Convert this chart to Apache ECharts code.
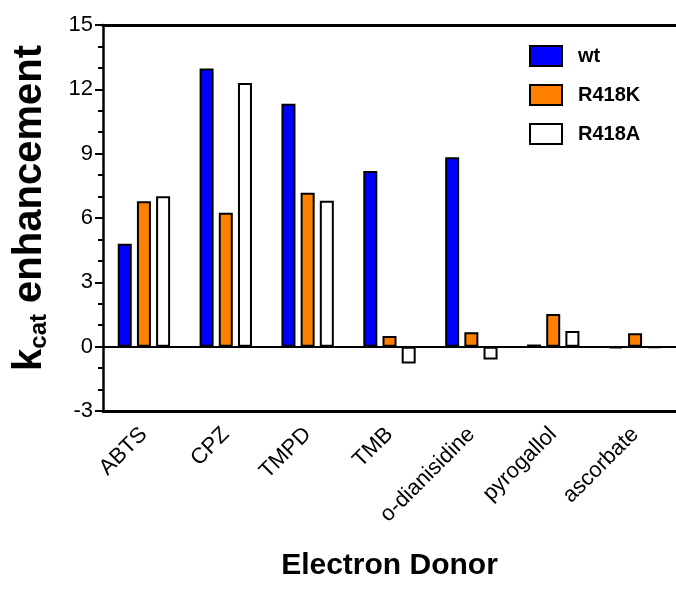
<!DOCTYPE html>
<html>
<head>
<meta charset="utf-8">
<script src="https://cdn.jsdelivr.net/npm/echarts@6/dist/echarts.min.js"></script>
<style>
  html, body { margin: 0; padding: 0; background: #fff; }
  #chart { width: 676px; height: 592px; }
</style>
</head>
<body>
<div id="chart"></div>
<script>
// Electron donors tested
const donors = ['ABTS', 'CPZ', 'TMPD', 'TMB', 'o-dianisidine', 'pyrogallol', 'ascorbate'];

// kcat enhancement per enzyme variant
const wt    = [4.80, 12.97, 11.33, 8.19, 8.83, 0.10, -0.08];
const r418k = [6.78, 6.25, 7.18, 0.50, 0.67, 1.52, 0.63];
const r418a = [7.02, 12.30, 6.80, -0.78, -0.60, 0.73, -0.06];

// Y axis ticks
const yTicks = { min: -3, max: 15, step: 3 };

const FONT = '"Liberation Sans", Arial, Helvetica, sans-serif';

const chart = echarts.init(document.getElementById('chart'), null, { renderer: 'canvas' });

function barSeries(name, values, color) {
  return {
    name: name,
    type: 'bar',
    data: values,
    barWidth: 14,
    barGap: '37%',
    itemStyle: { color: color, borderColor: '#000', borderWidth: 2 },
    emphasis: { disabled: true }
  };
}

const series = [
  barSeries('wt', wt, '#0000ff'),
  barSeries('R418K', r418k, '#ff8000'),
  barSeries('R418A', r418a, '#ffffff')
];

// horizontal reference line at zero
series[0].markLine = {
  silent: true,
  symbol: 'none',
  label: { show: false },
  lineStyle: { color: '#000', width: 2, type: 'solid' },
  data: [{ yAxis: 0 }]
};

chart.setOption({
  animation: false,
  backgroundColor: '#fff',
  textStyle: { fontFamily: FONT },
  grid: { left: 103, top: 25, right: -4, bottom: 181, containLabel: false },
  legend: {
    orient: 'vertical',
    left: 524,
    top: 40,
    icon: 'rect',
    itemWidth: 32,
    itemHeight: 20,
    itemGap: 17,
    selectedMode: false,
    textStyle: { fontFamily: FONT, fontSize: 20, fontWeight: 'bold', color: '#000', padding: [0, 0, 0, 11] },
    data: ['wt', 'R418K', 'R418A']
  },
  xAxis: [
    {
      type: 'category',
      data: donors,
      position: 'bottom',
      axisLine: { onZero: false, lineStyle: { color: '#000', width: 3 } },
      axisTick: { alignWithLabel: true, length: 8, lineStyle: { color: '#000', width: 2 } },
      axisLabel: {
        rotate: 45,
        margin: 20,
        fontFamily: FONT,
        fontSize: 22,
        color: '#000',
        interval: 0
      },
      name: 'Electron Donor',
      nameLocation: 'middle',
      nameGap: 140,
      nameTextStyle: { fontFamily: FONT, fontSize: 30, fontWeight: 'bold', color: '#000' }
    },
    {
      type: 'category',
      data: donors,
      position: 'top',
      axisLine: { onZero: false, lineStyle: { color: '#000', width: 3 } },
      axisTick: { show: false },
      axisLabel: { show: false }
    }
  ],
  yAxis: {
    type: 'value',
    min: yTicks.min,
    max: yTicks.max,
    interval: yTicks.step,
    splitLine: { show: false },
    axisLine: { show: true, onZero: false, lineStyle: { color: '#000', width: 2.5 } },
    axisTick: { show: true, length: 8, lineStyle: { color: '#000', width: 2 } },
    minorTick: { show: true, splitNumber: 3, length: 5, lineStyle: { color: '#000', width: 2 } },
    axisLabel: { fontFamily: FONT, fontSize: 22, color: '#000', margin: 10 }
  },
  // y-axis title with subscripted "cat"
  graphic: [{
    type: 'text',
    x: 30,
    y: 208,
    rotation: Math.PI / 2,
    style: {
      text: '{k|k}{sub|cat}{k| enhancement}',
      align: 'center',
      verticalAlign: 'middle',
      rich: {
        k: { fontFamily: FONT, fontSize: 40, fontWeight: 'bold', fill: '#000' },
        sub: { fontFamily: FONT, fontSize: 24, fontWeight: 'bold', fill: '#000', verticalAlign: 'bottom', padding: [18, 0, 0, 0] }
      }
    }
  }],
  series: series
});
</script>
</body>
</html>
